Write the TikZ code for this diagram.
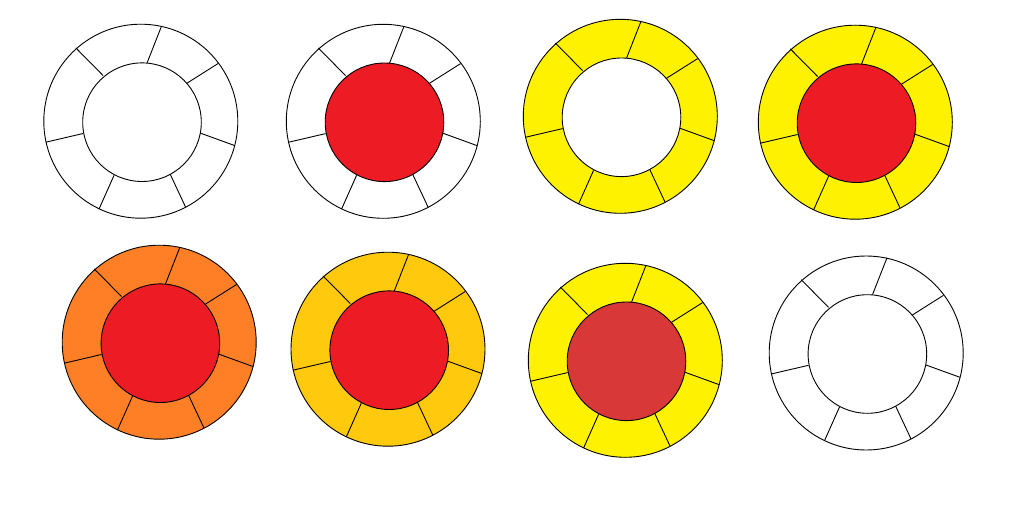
\documentclass[tikz,border=0pt]{standalone}
\usetikzlibrary{calc}
\definecolor{pred}{HTML}{ED1C24}
\definecolor{pyellow}{HTML}{FFF200}
\definecolor{porange}{HTML}{FF7F27}
\definecolor{pgold}{HTML}{FFC90E}
\definecolor{pdull}{HTML}{D93838}
\tikzset{outline/.style={draw=black, line width=0.9pt}}
\newcommand\myring[4]{%
  \coordinate (#1) at #2;
  \filldraw[outline, fill=#3] (#1) circle (97pt);
  \foreach \ox/\oy/\ix/\iy in {20.7/-95/6.3/-58.3, 77.3/-57.7/45.7/-37.7, 93.7/24.3/59/11.7, 44.7/85.7/28.3/50.7, -41.7/87.7/-26.7/54, -95/21/-57.7/12.3, -65/-73.3/-37.7/-45.7}
    {\draw[outline] ($(#1)+(\ox,\oy)$) -- ($(#1)+(\ix,\iy)$);}
  \filldraw[outline, fill=#4] ($(#1)+(1.2,1)$) circle (59.3pt);
}
\begin{document}
\begin{tikzpicture}[x=1pt,y=-1pt]
\useasboundingbox (0,0) rectangle (1036,532);
\fill[white] (0,0) rectangle (1036,532);
\myring{r1}{(140.8,121.2)}{white}{white}
\myring{r2}{(383.3,121.3)}{white}{pred}
\myring{r3}{(620.3,116.3)}{pyellow}{white}
\myring{r4}{(855.3,122.2)}{pyellow}{pred}
\myring{r5}{(159.2,342.2)}{porange}{pred}
\myring{r6}{(388,349.2)}{pgold}{pred}
\myring{r7}{(625.3,360.3)}{pyellow}{pdull}
\myring{r8}{(866.2,353)}{white}{white}
\end{tikzpicture}
\end{document}
